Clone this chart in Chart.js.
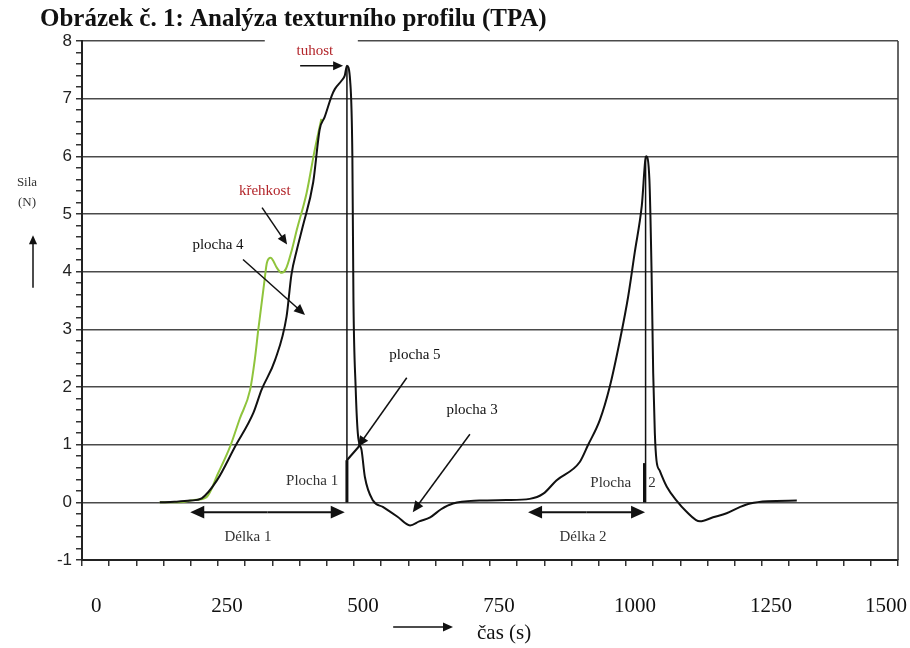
<!DOCTYPE html>
<html>
<head>
<meta charset="utf-8">
<script src="https://cdn.jsdelivr.net/npm/chart.js@4.4.1/dist/chart.umd.min.js"></script>
<style>
    html, body { margin: 0; padding: 0; background: #fff; }
</style>
</head>
<body>
<canvas id="myChart" width="910" height="648"></canvas>
<script>
var titleText = "Obrázek č. 1: Analýza texturního profilu (TPA)";
var xTickLabels = [0, 250, 500, 750, 1000, 1250, 1500];
var yTickLabels = [-1, 0, 1, 2, 3, 4, 5, 6, 7, 8];

// main TPA curve (black), time in s, force in N
var casBlack = [143, 170, 199, 220, 248, 281, 315, 330, 355, 376, 385, 395, 406, 425, 437, 446, 459, 465, 477, 483, 487,
                493, 497, 499, 503, 507, 514, 520, 535, 553, 580, 603, 620, 640, 660, 682, 731, 780, 823,
                848, 872, 915, 930, 952, 970, 989, 1004, 1016, 1029, 1037,
                1043, 1047, 1050, 1053, 1056, 1062, 1075, 1093, 1110, 1136, 1160, 1185, 1210, 1228, 1260, 1314];
var silaBlack = [0, 0.01, 0.03, 0.07, 0.38, 0.96, 1.55, 1.95, 2.47, 3.22, 3.95, 4.38, 4.79, 5.55, 6.47, 6.68, 7.05, 7.17, 7.31, 7.40, 7.57,
                 7.3, 6.0, 3.5, 2.0, 1.2, 0.9, 0.44, 0.03, -0.08, -0.25, -0.40, -0.33, -0.26, -0.12, -0.02, 0.03, 0.04, 0.06,
                 0.15, 0.38, 0.70, 0.99, 1.43, 2.0, 2.82, 3.57, 4.33, 5.14, 6.0,
                 5.6, 4.0, 2.24, 1.2, 0.73, 0.55, 0.27, 0.03, -0.15, -0.33, -0.26, -0.19, -0.08, -0.02, 0.02, 0.03];

// kriva krehkosti (green)
var casGreen = [143, 180, 206, 229, 250, 272, 290, 309, 318, 324, 335, 340, 347, 352, 358, 367, 375, 385, 395, 413, 428, 440];
var silaGreen = [0, 0, 0.04, 0.09, 0.5, 0.96, 1.45, 1.95, 2.5, 2.99, 3.81, 4.16, 4.24, 4.18, 4.07, 3.98, 4.05, 4.35, 4.73, 5.37, 6.12, 6.65];

// delici cary ploch
var casDeleni1 = [487, 487];
var silaDeleni1 = [0, 7.57];
var casDeleni5 = [487, 511];
var silaDeleni5 = [0.73, 0.99];
var casDeleni2 = [1036, 1036];
var silaDeleni2 = [0, 6.0];
var casPlocha2 = [1034, 1034];
var silaPlocha2 = [0, 0.68];
var casPlocha1 = [487, 487];
var silaPlocha1 = [0, 0.73];

function toPoints(xs, ys) {
    var pts = [];
    for (var i = 0; i < xs.length; i++) {
        pts.push({x: xs[i], y: ys[i]});
    }
    return pts;
}

function isWhole(v) {
    return Math.abs(v - Math.round(v)) < 1e-6;
}

function arrow(ctx, x1, y1, x2, y2, head) {
    var ang = Math.atan2(y2 - y1, x2 - x1);
    ctx.beginPath();
    ctx.moveTo(x1, y1);
    ctx.lineTo(x2 - Math.cos(ang) * head * 0.8, y2 - Math.sin(ang) * head * 0.8);
    ctx.stroke();
    ctx.beginPath();
    ctx.moveTo(x2, y2);
    ctx.lineTo(x2 - head * Math.cos(ang) + head * 0.45 * Math.sin(ang), y2 - head * Math.sin(ang) - head * 0.45 * Math.cos(ang));
    ctx.lineTo(x2 - head * Math.cos(ang) - head * 0.45 * Math.sin(ang), y2 - head * Math.sin(ang) + head * 0.45 * Math.cos(ang));
    ctx.closePath();
    ctx.fill();
}

var annotationPlugin = {
    id: 'annotations',
    afterDraw: function (chart) {
        var ctx = chart.ctx;
        var area = chart.chartArea;
        var xs = chart.scales.x;
        var ys = chart.scales.y;
        var px = function (v) { return xs.getPixelForValue(v); };
        var py = function (v) { return ys.getPixelForValue(v); };

        ctx.save();
        // right frame
        ctx.strokeStyle = '#333';
        ctx.lineWidth = 1.5;
        ctx.beginPath();
        ctx.moveTo(area.right, area.top);
        ctx.lineTo(area.right, area.bottom);
        ctx.stroke();

        // gap in top line behind "tuhost"
        ctx.fillStyle = '#fff';
        ctx.fillRect(px(336), py(8) - 2, px(507) - px(336), 4);

        ctx.textAlign = 'center';
        ctx.textBaseline = 'middle';

        ctx.fillStyle = '#b3262b';
        ctx.font = '15px "Liberation Serif"';
        ctx.fillText('tuhost', px(428), py(7.83));
        ctx.fillText('křehkost', px(336), py(5.39));

        ctx.fillStyle = '#111';
        ctx.strokeStyle = '#111';
        ctx.lineWidth = 1.5;
        ctx.fillText('plocha 4', px(250), py(4.47));
        ctx.fillText('plocha 5', px(612), py(2.56));
        ctx.fillText('plocha 3', px(717), py(1.6));
        ctx.fillStyle = '#333';
        ctx.fillText('Plocha 1', px(423), py(0.37));
        ctx.fillText('Plocha', px(972), py(0.33));
        ctx.fillText('2', px(1048), py(0.33));
        ctx.fillText('Délka 1', px(305), py(-0.61));
        ctx.fillText('Délka 2', px(921), py(-0.61));

        ctx.fillStyle = '#111';
        arrow(ctx, px(401), py(7.57), px(480), py(7.57), 10);
        arrow(ctx, px(331), py(5.11), px(377), py(4.47), 10);
        arrow(ctx, px(296), py(4.21), px(410), py(3.25), 11);
        arrow(ctx, px(597), py(2.16), px(507), py(0.96), 11);
        arrow(ctx, px(713), py(1.18), px(608), py(-0.17), 11);

        // delky
        ctx.lineWidth = 2;
        arrow(ctx, px(341), py(-0.17), px(199), py(-0.17), 14);
        arrow(ctx, px(341), py(-0.17), px(483), py(-0.17), 14);
        arrow(ctx, px(927), py(-0.17), px(820), py(-0.17), 14);
        arrow(ctx, px(927), py(-0.17), px(1035), py(-0.17), 14);

        // axis titles
        ctx.fillStyle = '#333';
        ctx.font = '13px "Liberation Serif"';
        ctx.fillText('Sila', area.left - 55, py(5.55));
        ctx.fillText('(N)', area.left - 55, py(5.2));
        ctx.fillStyle = '#111';
        ctx.lineWidth = 1.5;
        arrow(ctx, area.left - 49, py(3.72), area.left - 49, py(4.63), 9);

        ctx.font = '21px "Liberation Serif"';
        ctx.fillText('čas (s)', px(776), area.bottom + 73);
        arrow(ctx, px(572), area.bottom + 67, px(682), area.bottom + 67, 10);
        ctx.restore();
    }
};

function runGraphic() {
    var ctx = document.getElementById('myChart').getContext('2d');
    var lineStyle = {pointRadius: 0, borderColor: '#111', borderWidth: 2, fill: false, cubicInterpolationMode: 'monotone'};
    var chart = new Chart(ctx, {
        type: 'line',
        data: {
            datasets: [
                Object.assign({label: 'TPA', data: toPoints(casBlack, silaBlack)}, lineStyle),
                Object.assign({}, lineStyle, {label: 'křehkost', data: toPoints(casGreen, silaGreen), borderColor: '#8fc43c'}),
                Object.assign({}, lineStyle, {label: 'd1', data: toPoints(casDeleni1, silaDeleni1), borderWidth: 1.5}),
                Object.assign({}, lineStyle, {label: 'd5', data: toPoints(casDeleni5, silaDeleni5)}),
                Object.assign({}, lineStyle, {label: 'p1', data: toPoints(casPlocha1, silaPlocha1), borderWidth: 3}),
                Object.assign({}, lineStyle, {label: 'd2', data: toPoints(casDeleni2, silaDeleni2), borderWidth: 1.5}),
                Object.assign({}, lineStyle, {label: 'p2', data: toPoints(casPlocha2, silaPlocha2), borderWidth: 3})
            ]
        },
        options: {
            responsive: false,
            animation: false,
            layout: {padding: {left: 40, right: 12, top: 2, bottom: 8}},
            plugins: {
                legend: {display: false},
                tooltip: {enabled: false},
                title: {
                    display: true,
                    text: titleText,
                    align: 'start',
                    color: '#111',
                    font: {family: 'Liberation Serif', size: 25, weight: 'bold'},
                    padding: {top: 3, bottom: 6}
                }
            },
            scales: {
                x: {
                    type: 'linear',
                    min: 0,
                    max: 1500,
                    afterFit: function (s) {
                        s.height = 80;
                        s.paddingLeft = 0;
                        s.paddingRight = 0;
                    },
                    ticks: {
                        stepSize: 50,
                        autoSkip: false,
                        maxRotation: 0,
                        align: 'inner',
                        labelOffset: 9,
                        padding: 28,
                        color: '#111',
                        font: {family: 'Liberation Serif', size: 21},
                        callback: function (v) { return xTickLabels.indexOf(v) >= 0 ? String(v) : ''; }
                    },
                    grid: {drawOnChartArea: false, tickColor: '#333', tickLength: 6, lineWidth: 1.5},
                    border: {color: '#222', width: 2}
                },
                y: {
                    type: 'linear',
                    min: -1,
                    max: 8,
                    afterFit: function (s) { s.width = 42; },
                    ticks: {
                        stepSize: 0.2,
                        autoSkip: false,
                        padding: 4,
                        color: '#222',
                        font: {family: 'Liberation Sans', size: 17},
                        callback: function (v) {
                            return isWhole(v) && yTickLabels.indexOf(Math.round(v)) >= 0 ? String(Math.round(v)) : '';
                        }
                    },
                    grid: {
                        color: function (c) { return isWhole(c.tick.value) ? '#4a4a4a' : 'rgba(0,0,0,0)'; },
                        tickColor: '#333',
                        tickLength: 6,
                        lineWidth: 1.5
                    },
                    border: {color: '#222', width: 2}
                }
            }
        },
        plugins: [annotationPlugin]
    });
}

runGraphic();
</script>
</body>
</html>
